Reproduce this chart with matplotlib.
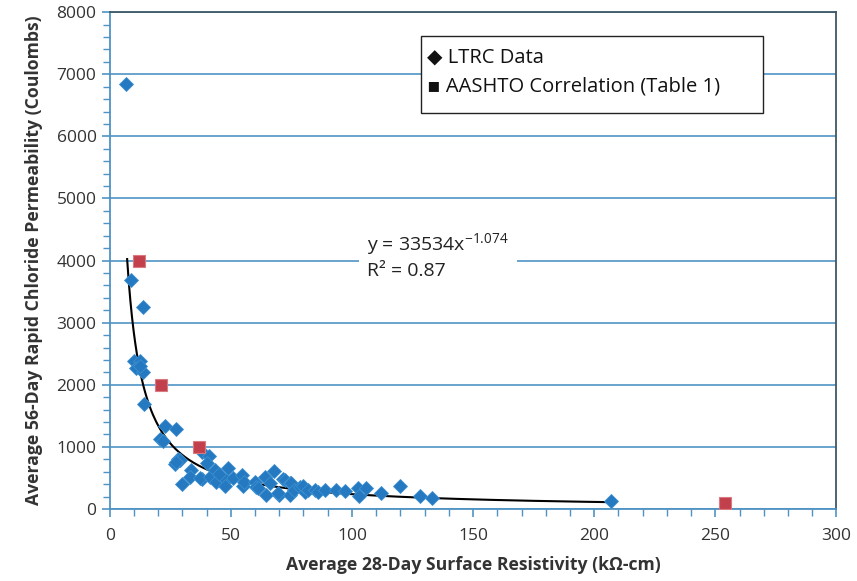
import numpy as np
import matplotlib
matplotlib.use("Agg")
import matplotlib.pyplot as plt
from matplotlib.ticker import MultipleLocator
from matplotlib.patches import Rectangle

plt.rcParams['font.family'] = ['Open Sans', 'DejaVu Sans']
plt.rcParams['mathtext.fontset'] = 'custom'
plt.rcParams['mathtext.rm'] = 'Open Sans'

# LTRC measured data (surface resistivity kOhm-cm, RCP coulombs)
ltrc_x = [6.6, 9.0, 13.8, 10.0, 12.7, 11.0, 13.8, 12.5, 14.0, 23.0, 27.5, 20.7,
          21.8, 28.0, 26.9, 29.0, 27.5, 33.7, 33.0, 30.0, 37.9, 41.0, 40.0, 38.3,
          37.2, 41.3, 43.8, 43.4, 48.9, 48.2, 47.5, 45.0, 51.0, 54.8, 55.0, 55.4,
          60.0, 60.6, 61.3, 64.0, 64.7, 67.8, 66.0, 70.0, 69.6, 71.6, 72.3, 74.4,
          74.4, 75.0, 76.0, 78.5, 80.6, 80.0, 82.0, 84.7, 86.0, 88.8, 93.4, 97.0,
          102.6, 103.0, 106.0, 112.0, 119.8, 128.0, 133.0, 207.0]
ltrc_y = [6840, 3690, 3250, 2380, 2380, 2265, 2210, 2300, 1690, 1337, 1283, 1122,
          1095, 800, 725, 789, 760, 628, 520, 402, 923, 853, 745, 478,
          494, 510, 440, 628, 655, 467, 370, 560, 494, 547, 370, 430,
          440, 360, 333, 510, 225, 617, 420, 225, 250, 478, 467, 424,
          225, 413, 300, 360, 279, 370, 310, 306, 280, 306, 306, 290,
          343, 209, 333, 262, 370, 209, 180, 130]

# AASHTO correlation (Table 1)
aashto_x = [12, 21, 37, 254]
aashto_y = [4000, 2000, 1000, 100]

# power trendline
fit_a = 33534
fit_b = -1.074

fig = plt.figure(figsize=(8.57, 5.81), dpi=100)
ax = fig.add_axes([0.128, 0.124, 0.848, 0.855])

grid_c = '#4f93c4'
ax.set_xlim(0, 300)
ax.set_ylim(0, 8000)
ax.xaxis.set_major_locator(MultipleLocator(50))
ax.xaxis.set_minor_locator(MultipleLocator(10))
ax.yaxis.set_major_locator(MultipleLocator(1000))
ax.yaxis.set_minor_locator(MultipleLocator(200))
ax.grid(axis='y', color=grid_c, lw=1.2)
ax.set_axisbelow(True)

for s in ['left', 'bottom']:
    ax.spines[s].set_color(grid_c)
    ax.spines[s].set_linewidth(1.3)
for s in ['top', 'right']:
    ax.spines[s].set_color('#3d5866')
    ax.spines[s].set_linewidth(1.3)

ax.tick_params(which='both', direction='out', color=grid_c, labelsize=12.5,
               labelcolor='#333333')
ax.tick_params(which='major', length=6, width=1.2)
ax.tick_params(which='minor', length=5, width=1.0)
ax.tick_params(axis='x', pad=8)

xs = np.linspace(7.2, 207, 300)
ax.plot(xs, fit_a * xs ** fit_b, color='black', lw=1.5, zorder=3)

ax.plot(ltrc_x, ltrc_y, 'D', color='#2479c0', markersize=7, mec='#3d8fd0',
        mew=0.6, zorder=4)
ax.plot(aashto_x, aashto_y, 's', color='#c2404c', markersize=8.5,
        mec='#d97a80', mew=0.8, zorder=5)

ax.set_xlabel('Average 28-Day Surface Resistivity (k\u03a9-cm)', fontsize=12.7,
              fontweight='bold', color='#333333', labelpad=8)
ax.set_ylabel('Average 56-Day Rapid Chloride Permeability (Coulombs)',
              fontsize=12.7, fontweight='bold', color='#333333', labelpad=10)

# equation box
ax.text(0.354, 0.51, 'y = 33534x$^{\\mathrm{-1.074}}$\nR\u00b2 = 0.87',
        transform=ax.transAxes, fontsize=14, color='#222222', va='center',
        ha='left', linespacing=1.25,
        bbox=dict(facecolor='white', edgecolor='none', pad=6), zorder=6)

# legend box
ax.add_patch(Rectangle((0.428, 0.797), 0.471, 0.155, transform=ax.transAxes,
                       facecolor='white', edgecolor='#222222', lw=1.0, zorder=6))
ax.text(0.437, 0.908, '\u25c6 LTRC Data', transform=ax.transAxes, fontsize=14.5,
        va='center', ha='left', color='#111111', zorder=7)
ax.text(0.437, 0.85, '\u25aa AASHTO Correlation (Table 1)', transform=ax.transAxes,
        fontsize=14.5, va='center', ha='left', color='#111111', zorder=7)

fig.savefig('out.png', dpi=100)
